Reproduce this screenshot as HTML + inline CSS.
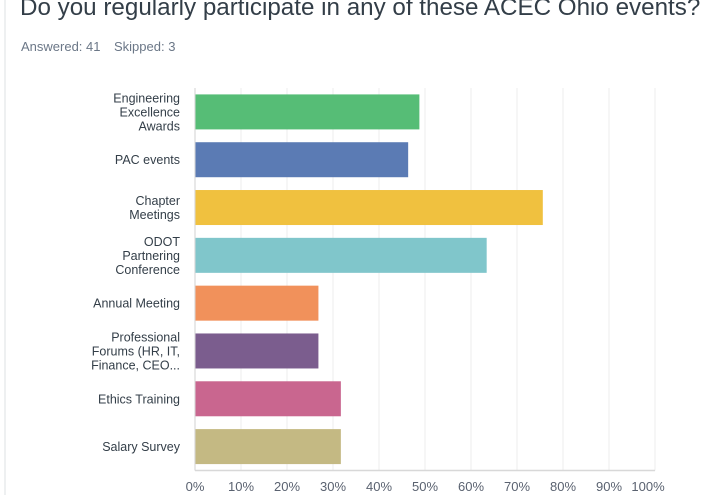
<!DOCTYPE html>
<html><head><meta charset="utf-8"><style>
body{margin:0;background:#fff;width:702px;height:495px;overflow:hidden;font-family:"Liberation Sans",sans-serif;}
</style></head><body>
<div style="position:absolute;left:4px;top:0;width:2px;height:495px;background:#eef0f1"></div>
<div style="position:absolute;left:20px;top:-6px;font-size:24.2px;color:#333e48;white-space:nowrap">Do you regularly participate in any of these ACEC Ohio events?</div>
<div style="position:absolute;left:21px;top:39px;font-size:13px;color:#6b7787">Answered: 41</div>
<div style="position:absolute;left:114px;top:39px;font-size:13px;color:#6b7787">Skipped: 3</div>
<svg id="chart" width="702" height="495" style="position:absolute;left:0;top:0"></svg>
<script>
const categories=[["Engineering","Excellence","Awards"],["PAC events"],["Chapter","Meetings"],["ODOT","Partnering","Conference"],["Annual Meeting"],["Professional","Forums (HR, IT,","Finance, CEO..."],["Ethics Training"],["Salary Survey"]];
const values=[48.78,46.34,75.61,63.41,26.83,26.83,31.71,31.71];
const colors=["#56bd76","#5b7bb4","#f0c13f","#80c6cb","#f1915b","#7b5d8e","#c9668f","#c4b983"];
const tickLabels=["0%","10%","20%","30%","40%","50%","60%","70%","80%","90%","100%"];
const ticks=[0,10,20,30,40,50,60,70,80,90,100];
const NS="http://www.w3.org/2000/svg";
const svg=document.getElementById('chart');
const x0=195,x1=655,yTop=88,yBottom=470.5;
const xs=v=>x0+(x1-x0)*v/100;
const band=(yBottom-yTop)/categories.length;
const yc=i=>yTop+band*(i+0.5);
function mk(t,a){const e=document.createElementNS(NS,t);for(const k in a)e.setAttribute(k,a[k]);svg.appendChild(e);return e;}
ticks.forEach((t,i)=>{
 if(i>0){const g=mk('line',{x1:xs(t),x2:xs(t),y1:yTop,y2:yBottom,stroke:'#ececec','stroke-width':1});
 
 }
 const lx=xs(t)-(i===ticks.length-1?7:0);
 const tx=mk('text',{x:lx,y:491,'text-anchor':'middle','font-size':13,fill:'#5a6270'});
 tx.textContent=tickLabels[i];
 
 
});
const ax=mk('line',{x1:x0,x2:x0,y1:yTop,y2:yBottom,stroke:'#d8d8d8','stroke-width':1.2});


const bx=mk('line',{x1:x0,x2:x1,y1:yBottom,y2:yBottom,stroke:'#d8d8d8','stroke-width':1.5});


values.forEach((v,i)=>{
 const r=mk('rect',{x:x0+0.5,y:yc(i)-17.5,width:xs(v)-x0-0.5,height:35,fill:colors[i]});
 
 
 const lines=categories[i];
 lines.forEach((s,j)=>{
  const t=mk('text',{x:180,y:yc(i)+4.5+(j-(lines.length-1)/2)*14,'text-anchor':'end','font-size':12.5,fill:'#333e48'});
  t.textContent=s;
  
  
 });
});
</script>
</body></html>
